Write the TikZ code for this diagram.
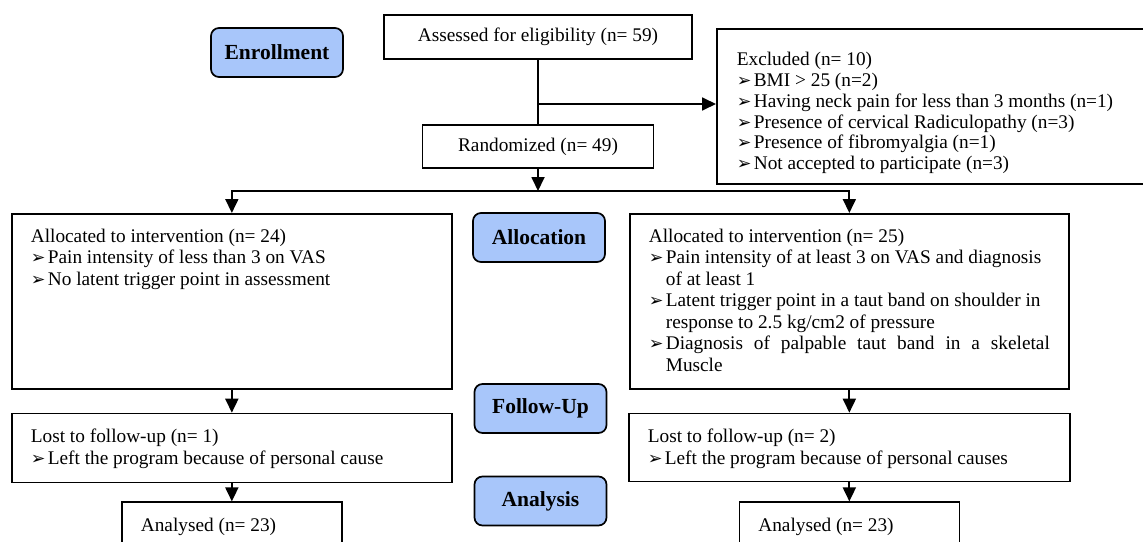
\documentclass[tikz,border=0pt]{standalone}
\usepackage{fontspec}
\setmainfont{Liberation Serif}
\newfontfamily\dingfont{DejaVu Sans}
\usepackage{tikz}
\usetikzlibrary{arrows.meta,positioning}
\definecolor{stageblue}{RGB}{168,198,250}
\newcommand{\cellfont}{\fontsize{19.3}{21.5}\selectfont}
\newcommand{\exfont}{\fontsize{19.3}{20.8}\selectfont}
\newcommand{\bul}{\makebox[17pt][l]{\dingfont\fontsize{17.5}{17.5}\selectfont ➢}}
\newcommand{\pitem}[1]{\par\noindent\hangindent=17pt\hangafter=1\bul#1}
\begin{document}
\begin{tikzpicture}[x=1pt, y=-1pt,
    stage/.style={draw, line width=1.7pt, rounded corners=8pt, fill=stageblue, minimum width=132pt, minimum height=49pt, inner sep=0pt, font=\bfseries\fontsize{21.5}{21.5}\selectfont},
    flat/.style={draw, line width=1.7pt, inner sep=0pt, font=\cellfont},
    panel/.style={draw, line width=1.7pt, inner xsep=19pt, font=\cellfont},
    conn/.style={line width=1.8pt},
    arr/.style={conn, -{Triangle[length=14pt,width=13pt]}},
    node distance=23pt]
    \useasboundingbox (0,0) rectangle (1143,541);
    \clip (0,0) rectangle (1143,541);

    % Stages
    \node [stage] (enroll) at (277,52.5) {Enrollment};
    \node [stage] (alloc) at (539,237.5) {Allocation};
    \node [stage] (follow) at (540.5,408.5) {Follow-Up};
    \node [stage] (analysis) at (540.5,501) {Analysis};

    % Enrollment
    \node [flat, minimum width=308pt, minimum height=44pt] (assess) at (538,37) {Assessed for eligibility (n= 59)};
    \node [flat, minimum width=231pt, minimum height=43pt] (rand) at (538,146.5) {Randomized (n= 49)};
    \node [panel, anchor=north west, inner xsep=20pt, inner ysep=23.5pt, font=\exfont] (excl) at (716,28) {\parbox[c][108pt][t]{440pt}{Excluded (n= 10)%
        \pitem{BMI > 25 (n=2)}%
        \pitem{Having neck pain for less than 3 months (n=1)}%
        \pitem{Presence of cervical Radiculopathy (n=3)}%
        \pitem{Presence of fibromyalgia (n=1)}%
        \pitem{Not accepted to participate (n=3)}}};

    % Allocation
    \node [panel, anchor=north west, inner ysep=15pt] (allocL) at (11,213) {\parbox[c][145pt][t]{402pt}{Allocated to intervention (n= 24)%
        \pitem{Pain intensity of less than 3 on VAS}%
        \pitem{No latent trigger point in assessment}}};
    \node [panel, anchor=north west, inner ysep=15pt] (allocR) at (629,213) {\parbox[c][145pt][t]{401pt}{Allocated to intervention (n= 25)%
        \pitem{Pain intensity of at least 3 on VAS and diagnosis\\ of at least 1}%
        \pitem{Latent trigger point in a taut band on shoulder in\\ response to 2.5 kg/cm2 of pressure}%
        \pitem{Diagnosis of palpable taut band in a skeletal\linebreak Muscle}}};

    % Follow-up
    \node [panel, below=of allocL, inner ysep=15.5pt] (lostL) {\parbox[c][38pt][t]{402pt}{Lost to follow-up (n= 1)%
        \pitem{Left the program because of personal cause}}};
    \node [panel, below=of allocR, inner ysep=15.5pt] (lostR) {\parbox[c][37pt][t]{403pt}{Lost to follow-up (n= 2)%
        \pitem{Left the program because of personal causes}}};

    % Analysis
    \node [panel, below=18pt of lostL, inner ysep=15.5pt] (anL) {\parbox[c][40pt][t]{182pt}{Analysed (n= 23)}};
    \node [panel, below=19pt of lostR, inner ysep=15.5pt] (anR) {\parbox[c][40pt][t]{182pt}{Analysed (n= 23)}};

    % Connectors
    \coordinate (exjoin) at (538,104);
    \coordinate (fork) at (538,191);
    \draw [conn] (assess) -- (rand);
    \draw [arr] (exjoin) -- (excl.west |- exjoin);
    \draw [arr] (rand) -- (fork);
    \draw [arr] (fork) -| (allocL.north);
    \draw [arr] (fork) -| (allocR.north);
    \draw [arr] (allocL) -- (lostL);
    \draw [arr] (lostL) -- (anL);
    \draw [arr] (allocR) -- (lostR);
    \draw [arr] (lostR) -- (anR);
\end{tikzpicture}
\end{document}
